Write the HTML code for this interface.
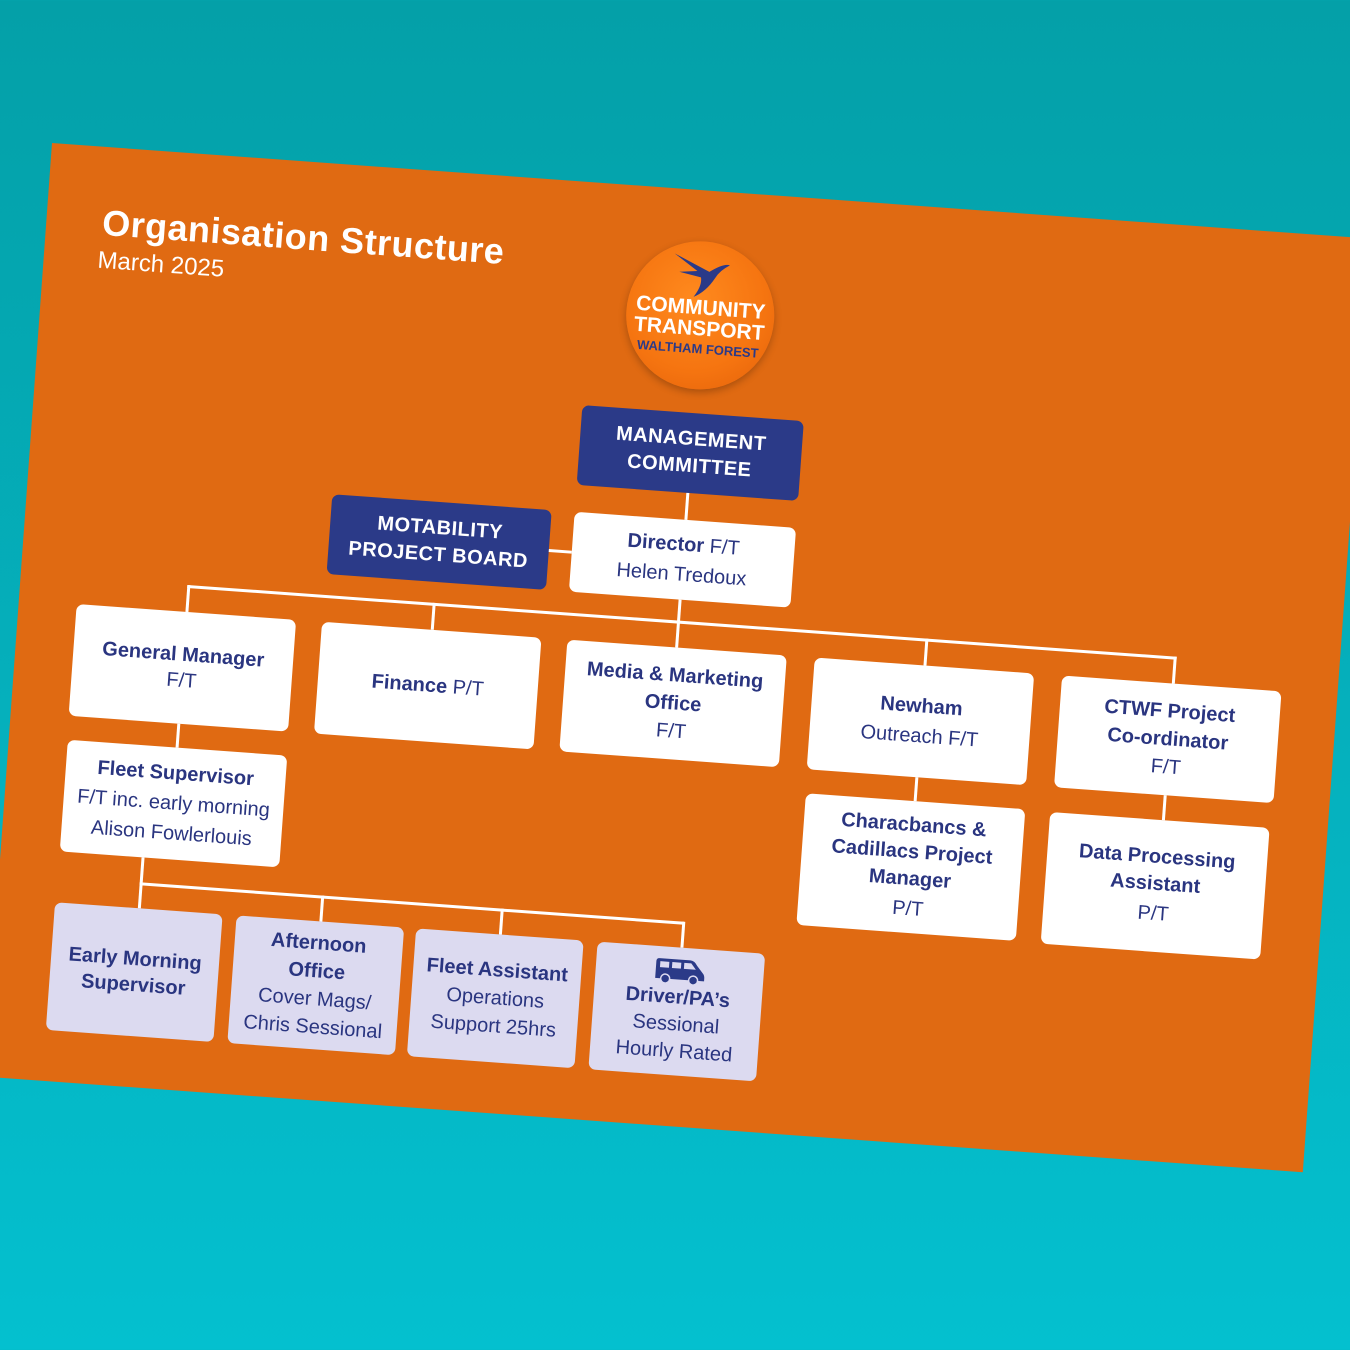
<!DOCTYPE html>
<html><head><meta charset="utf-8">
<style>
html,body{margin:0;padding:0;}
body{width:1350px;height:1350px;overflow:hidden;position:relative;
background:linear-gradient(180deg,#04a0a8 0%,#05b2bf 60%,#04c0cf 100%);
font-family:"Liberation Sans","DejaVu Sans",sans-serif;}
#sheet{position:absolute;left:52px;top:143px;width:1322px;height:936px;background:#e06a12;
transform-origin:0 0;transform:rotate(4.15deg);}
.b{position:absolute;background:#fff;border-radius:7px;color:#2a3580;text-align:center;
display:flex;flex-direction:column;justify-content:center;align-items:center;font-size:20px;line-height:26px;box-sizing:border-box;}
.b b{font-weight:bold;}
.n{background:#2b3a88;color:#fff;font-weight:bold;font-size:20px;letter-spacing:.5px;}
.l{background:#dcdaf0;}
.h{position:absolute;background:#fff;height:3px;}
.v{position:absolute;background:#fff;width:3px;}
</style></head><body>
<div id="sheet">
 <div style="position:absolute;left:56px;top:55px;color:#fff;font-weight:bold;font-size:36px;letter-spacing:.5px;">Organisation Structure</div>
 <div style="position:absolute;left:54px;top:100px;color:#fff;font-size:24px;">March 2025</div>
 <div style="position:absolute;left:585px;top:51px;width:148px;height:148px;border-radius:50%;
  background:radial-gradient(circle at 45% 40%,#ff8a1e 0%,#f57410 60%,#e2600a 100%);box-shadow:0 3px 8px rgba(0,0,0,.25);">
  <svg style="position:absolute;left:42px;top:10px" width="60" height="50" viewBox="0 0 60 50"><path d="M2 4 L38 20 Q52 10 58 12 Q48 18 44 26 Q36 40 24 46 Q32 34 30 26 L8 22 L26 20 Z" fill="#2b3a88"/></svg>
  <div style="position:absolute;left:0;width:148px;top:56px;text-align:center;color:#fff;font-weight:bold;font-size:21px;line-height:21px;">COMMUNITY<br>TRANSPORT</div>
  <div style="position:absolute;left:0;width:148px;top:100px;text-align:center;color:#2b3a88;font-weight:bold;font-size:13px;">WALTHAM FOREST</div>
 </div>
 <div class="b n" style="left:548px;top:223px;width:222px;height:80px;line-height:27px;">MANAGEMENT<br>COMMITTEE</div>
 <div class="b n" style="left:305px;top:330px;width:220px;height:80px;line-height:27px;">MOTABILITY<br>PROJECT BOARD</div>
 <div class="b" style="left:548px;top:330px;width:222px;height:80px;line-height:30px;"><div><b>Director</b> F/T</div><div>Helen Tredoux</div></div>
 <div class="v" style="left:658px;top:303px;height:27px;"></div>
 <div class="h" style="left:525px;top:369px;width:23px;"></div>
 <div class="v" style="left:658px;top:410px;height:48px;"></div>
 <div class="h" style="left:167px;top:431px;width:992px;"></div>
 <div class="v" style="left:167px;top:431px;height:27px;"></div>
 <div class="v" style="left:413px;top:431px;height:27px;"></div>
 <div class="v" style="left:907px;top:431px;height:27px;"></div>
 <div class="v" style="left:1156px;top:431px;height:27px;"></div>
 <div class="b" style="left:58px;top:458px;width:220px;height:112px;"><b>General Manager</b><div>F/T</div></div>
 <div class="b" style="left:304px;top:458px;width:220px;height:112px;"><div><b>Finance</b> P/T</div></div>
 <div class="b" style="left:550px;top:458px;width:220px;height:112px;line-height:28px;"><b>Media &amp; Marketing<br>Office</b><div>F/T</div></div>
 <div class="b" style="left:798px;top:458px;width:220px;height:112px;line-height:30px;"><b>Newham</b><div>Outreach F/T</div></div>
 <div class="b" style="left:1046px;top:458px;width:220px;height:112px;line-height:28px;"><b>CTWF Project<br>Co-ordinator</b><div>F/T</div></div>
 <div class="v" style="left:167px;top:570px;height:24px;"></div>
 <div class="v" style="left:907px;top:570px;height:24px;"></div>
 <div class="v" style="left:1156px;top:570px;height:25px;"></div>
 <div class="b" style="left:59px;top:594px;width:220px;height:112px;line-height:30px;"><b>Fleet Supervisor</b><div>F/T inc. early morning</div><div>Alison Fowlerlouis</div></div>
 <div class="b" style="left:799px;top:594px;width:220px;height:132px;line-height:27px;"><b>Characbancs &amp;<br>Cadillacs Project<br>Manager</b><div style="margin-top:3px">P/T</div></div>
 <div class="b" style="left:1044px;top:595px;width:220px;height:132px;line-height:27px;"><b>Data Processing<br>Assistant</b><div style="margin-top:3px">P/T</div></div>
 <div class="v" style="left:141px;top:706px;height:51px;"></div>
 <div class="h" style="left:141px;top:731px;width:546px;"></div>
 <div class="v" style="left:323px;top:731px;height:26px;"></div>
 <div class="v" style="left:503px;top:731px;height:26px;"></div>
 <div class="v" style="left:685px;top:731px;height:26px;"></div>
 <div class="b l" style="left:58px;top:757px;width:168px;height:128px;"><b>Early Morning<br>Supervisor</b></div>
 <div class="b l" style="left:240px;top:757px;width:168px;height:128px;line-height:28px;"><b>Afternoon<br>Office</b><div>Cover Mags/</div><div>Chris Sessional</div></div>
 <div class="b l" style="left:420px;top:757px;width:168px;height:128px;line-height:28px;"><b>Fleet Assistant</b><div>Operations</div><div>Support 25hrs</div></div>
 <div class="b l" style="left:602px;top:757px;width:168px;height:128px;line-height:27px;">
  <svg width="52" height="26" viewBox="0 0 52 26"><path d="M2 4 Q2 1 5 1 L36 1 Q40 1 43 6 L49 13 Q51 15 51 18 L51 21 L2 21 Z" fill="#2b3a88"/><rect x="6" y="4" width="9" height="6" fill="#dcdaf0"/><rect x="18" y="4" width="9" height="6" fill="#dcdaf0"/><path d="M30 4 L37 4 L42 10 L30 10 Z" fill="#dcdaf0"/><circle cx="12" cy="21" r="4.5" fill="#2b3a88" stroke="#dcdaf0" stroke-width="1.5"/><circle cx="40" cy="21" r="4.5" fill="#2b3a88" stroke="#dcdaf0" stroke-width="1.5"/></svg>
  <b>Driver/PA’s</b><div>Sessional</div><div>Hourly Rated</div></div>
</div>
</body></html>
